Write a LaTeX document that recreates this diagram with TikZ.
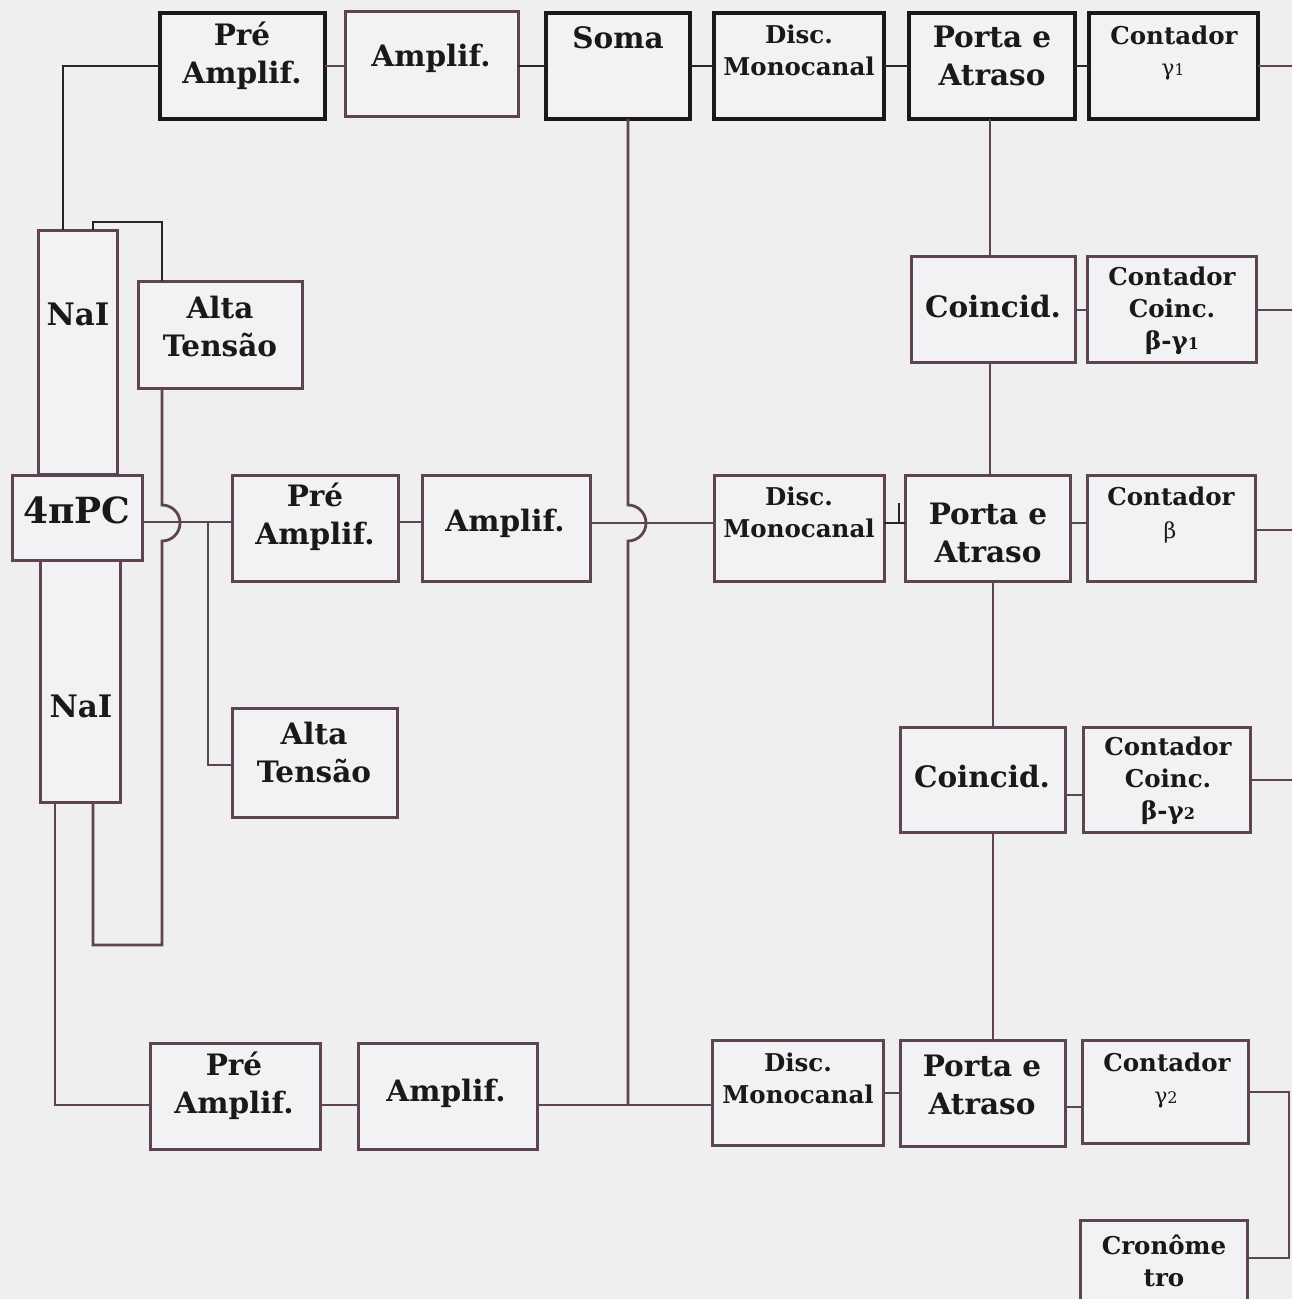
\documentclass[tikz,border=0pt]{standalone}
\usepackage{fontspec}
\setmainfont{DejaVu Serif}
\definecolor{bg}{HTML}{EFEFEF}
\definecolor{lc}{HTML}{5E4452}
\definecolor{boxfill}{HTML}{F2F1F3}
\tikzset{
  box/.style={draw=lc, line width=3pt, fill=boxfill, inner sep=0pt, outer sep=0pt},
  topbox/.style={draw=black!90, line width=4pt, fill=boxfill, inner sep=0pt, outer sep=0pt},
  wire/.style={draw=lc, line width=2.8pt},
  twire/.style={draw=black!85, line width=2.8pt},
  big/.style={font=\fontsize{29.5}{38}\selectfont\bfseries, align=center, inner sep=0pt, text=black!90},
  small/.style={font=\fontsize{24.5}{32}\selectfont\bfseries, align=center, inner sep=0pt, text=black!90},
  greek/.style={font=\fontsize{22}{24}\selectfont, inner sep=0pt, text=black!90},
}
\newcommand\bx[6]{\node[#6, minimum width={#4-#2}, minimum height={#5-#3}] (#1) at ({(#2+#4)/2},{-(#3+#5)/2}) {};}
\newcommand\sm[1]{{\fontsize{16}{16}\selectfont #1}}
\begin{document}
\begin{tikzpicture}[x=1pt,y=1pt]
\fill[bg] (0,0) rectangle (1292,-1299);
\useasboundingbox (0,0) rectangle (1292,-1299);
\clip (0,0) rectangle (1292,-1299);

% right-hand ends
\coordinate (e1) at (1292,-66);
\coordinate (e2) at (1292,-310);
\coordinate (e3) at (1292,-530);
\coordinate (e4) at (1292,-780);
\coordinate (e5) at (1289,-1092);
\coordinate (e6) at (1289,-1258);

% ---------------- boxes ----------------
% top row
\bx{pa1}{160}{13}{325}{119}{topbox}
\bx{am1}{345}{11}{518}{116}{box}
\bx{soma}{546}{13}{690}{119}{topbox}
\bx{dm1}{714}{13}{884}{119}{topbox}
\bx{pe1}{909}{13}{1075}{119}{topbox}
\bx{cg1}{1089}{13}{1258}{119}{topbox}
% coincidences
\bx{co1}{911}{256}{1075}{362}{box}
\bx{ccg1}{1087}{256}{1256}{362}{box}
\bx{co2}{900}{727}{1065}{832}{box}
\bx{ccg2}{1083}{727}{1250}{832}{box}
% detectors
\bx{nai1}{38}{230}{117}{474}{box}
\bx{nai2}{40}{560}{120}{802}{box}
\bx{pc}{12}{475}{142}{560}{box}
\bx{hv1}{138}{281}{302}{388}{box}
\bx{hv2}{232}{708}{397}{817}{box}
% middle row
\bx{pa2}{232}{475}{398}{581}{box}
\bx{am2}{422}{475}{590}{581}{box}
\bx{dm2}{714}{475}{884}{581}{box}
\bx{pe2}{905}{475}{1070}{581}{box}
\bx{cb}{1087}{475}{1255}{581}{box}
% bottom row
\bx{pa3}{150}{1043}{320}{1149}{box}
\bx{am3}{358}{1043}{537}{1149}{box}
\bx{dm3}{712}{1040}{883}{1145}{box}
\bx{pe3}{900}{1040}{1065}{1146}{box}
\bx{cg2}{1082}{1040}{1248}{1143}{box}
\bx{cron}{1080}{1220}{1247}{1320}{box}

% ---------------- connectors ----------------
% top chain
\coordinate (k1) at (63,-66);
\draw[twire] (pa1.west |- 0,-66) -- (k1) -- (63,0 |- nai1.north);
\coordinate (k2) at (162,-222);
\coordinate (k3) at (93,-222);
\draw[twire] (162,0 |- hv1.north) -- (k2) -- (k3) -- (93,0 |- nai1.north);
\draw[wire] (pa1.east |- 0,-66) -- (am1.west |- 0,-66);
\draw[twire] (am1.east |- 0,-66) -- (soma.west |- 0,-66);
\draw[twire] (soma.east |- 0,-66) -- (dm1.west |- 0,-66);
\draw[twire] (dm1.east |- 0,-66) -- (pe1.west |- 0,-66);
\draw[twire] (pe1.east |- 0,-66) -- (cg1.west |- 0,-66);
\draw[wire] (cg1.east |- e1) -- (e1);

% vertical coincidence chain
\draw[wire] (990,0 |- pe1.south) -- (990,0 |- co1.north);
\draw[wire] (990,0 |- co1.south) -- (990,0 |- pe2.north);
\draw[wire] (993,0 |- pe2.south) -- (993,0 |- co2.north);
\draw[wire] (993,0 |- co2.south) -- (993,0 |- pe3.north);
\draw[wire] (co1.east |- 0,-310) -- (ccg1.west |- 0,-310);
\draw[wire] (ccg1.east |- e2) -- (e2);
\draw[wire] (co2.east |- 0,-795) -- (ccg2.west |- 0,-795);
\draw[wire] (ccg2.east |- e4) -- (e4);

% high voltage 1 feeding lower NaI, with hop
\coordinate (k4) at (162,-945);
\coordinate (k5) at (93,-945);
\draw[wire] (162,0 |- hv1.south) -- (162,-505)
  arc[start angle=90, end angle=-90, radius=18] -- (k4) -- (k5) -- (93,0 |- nai2.south);
% lower NaI to lower preamp
\coordinate (k6) at (55,-1105);
\draw[wire] (55,0 |- nai2.south) -- (k6) -- (pa3.west |- k6);
% 4piPC to middle preamp, branch to HV2
\coordinate (k7) at (208,-522);
\coordinate (k8) at (208,-765);
\draw[wire] (pc.east |- k7) -- (pa2.west |- k7);
\draw[wire] (k7) -- (k8) -- (hv2.west |- k8);
\draw[wire] (pa2.east |- 0,-522) -- (am2.west |- 0,-522);
\draw[wire] (am2.east |- 0,-523) -- (dm2.west |- 0,-523);
% Soma down to bottom line, with hop
\coordinate (k9) at (628,-1105);
\draw[wire] (628,0 |- soma.south) -- (628,-505)
  arc[start angle=90, end angle=-90, radius=18] -- (k9);
% bottom row
\draw[wire] (pa3.east |- 0,-1105) -- (am3.west |- 0,-1105);
\draw[wire] (am3.east |- 0,-1105) -- (dm3.west |- 0,-1105);
\draw[wire] (dm3.east |- 0,-1093) -- (pe3.west |- 0,-1093);
\draw[wire] (pe3.east |- 0,-1107) -- (cg2.west |- 0,-1107);
\draw[wire] (cg2.east |- e5) -- (e5) -- (e6) -- (cron.east |- e6);
% middle row right part
\coordinate (k10) at (899,-523);
\draw[twire, line width=2pt] (dm2.east |- k10) -- (pe2.west |- k10);
\draw[twire, line width=2pt] (899,-503) -- (k10);
\draw[wire] (pe2.east |- 0,-523) -- (cb.west |- 0,-523);
\draw[wire] (cb.east |- e3) -- (e3);

% ---------------- texts ----------------
\node[big] (t-pa1) at (242,-56) {Pré\\Amplif.};
\node[big] (t-am1) at (431,-58) {Amplif.};
\node[big] (t-soma) at (618,-38) {Soma};
\node[small] (t-dm1) at (799,-50) {Disc.\\Monocanal};
\node[big] (t-pe1) at (992,-56) {Porta e\\Atraso};
\node[small] (t-cg1a) at (1174,-35) {Contador};
\node[greek] (t-cg1b) at (1173,-72) {γ\sm{1}};

\node[big] (t-co1) at (993,-306) {Coincid.};
\node[small] (t-ccg1) at (1172,-311) {Contador\\Coinc.\\β-γ\sm{1}};

\node[big, font=\fontsize{36}{38}\selectfont\bfseries] (t-pc) at (77,-510) {4πPC};
\node[big, font=\fontsize{31}{38}\selectfont\bfseries] (t-nai1) at (78,-314) {NaI};
\node[big, font=\fontsize{31}{38}\selectfont\bfseries] (t-nai2) at (81,-706) {NaI};
\node[big] (t-hv1) at (220,-326) {Alta\\Tensão};
\node[big] (t-hv2) at (314,-752) {Alta\\Tensão};

\node[big] (t-pa2) at (315,-517) {Pré\\Amplif.};
\node[big] (t-am2) at (505,-523) {Amplif.};
\node[small] (t-dm2) at (799,-512) {Disc.\\Monocanal};
\node[big] (t-pe2) at (988,-533) {Porta e\\Atraso};
\node[small] (t-cba) at (1171,-496) {Contador};
\node[greek] (t-cbb) at (1170,-532) {β};

\node[big] (t-co2) at (982,-776) {Coincid.};
\node[small] (t-ccg2) at (1168,-781) {Contador\\Coinc.\\β-γ\sm{2}};

\node[big] (t-pa3) at (234,-1086) {Pré\\Amplif.};
\node[big] (t-am3) at (446,-1093) {Amplif.};
\node[small] (t-dm3) at (798,-1078) {Disc.\\Monocanal};
\node[big] (t-pe3) at (982,-1085) {Porta e\\Atraso};
\node[small] (t-cg2a) at (1167,-1062) {Contador};
\node[greek] (t-cg2b) at (1166,-1100) {γ\sm{2}};
\node[small] (t-cron) at (1164,-1261) {Cronôme\\tro};
\end{tikzpicture}
\end{document}
